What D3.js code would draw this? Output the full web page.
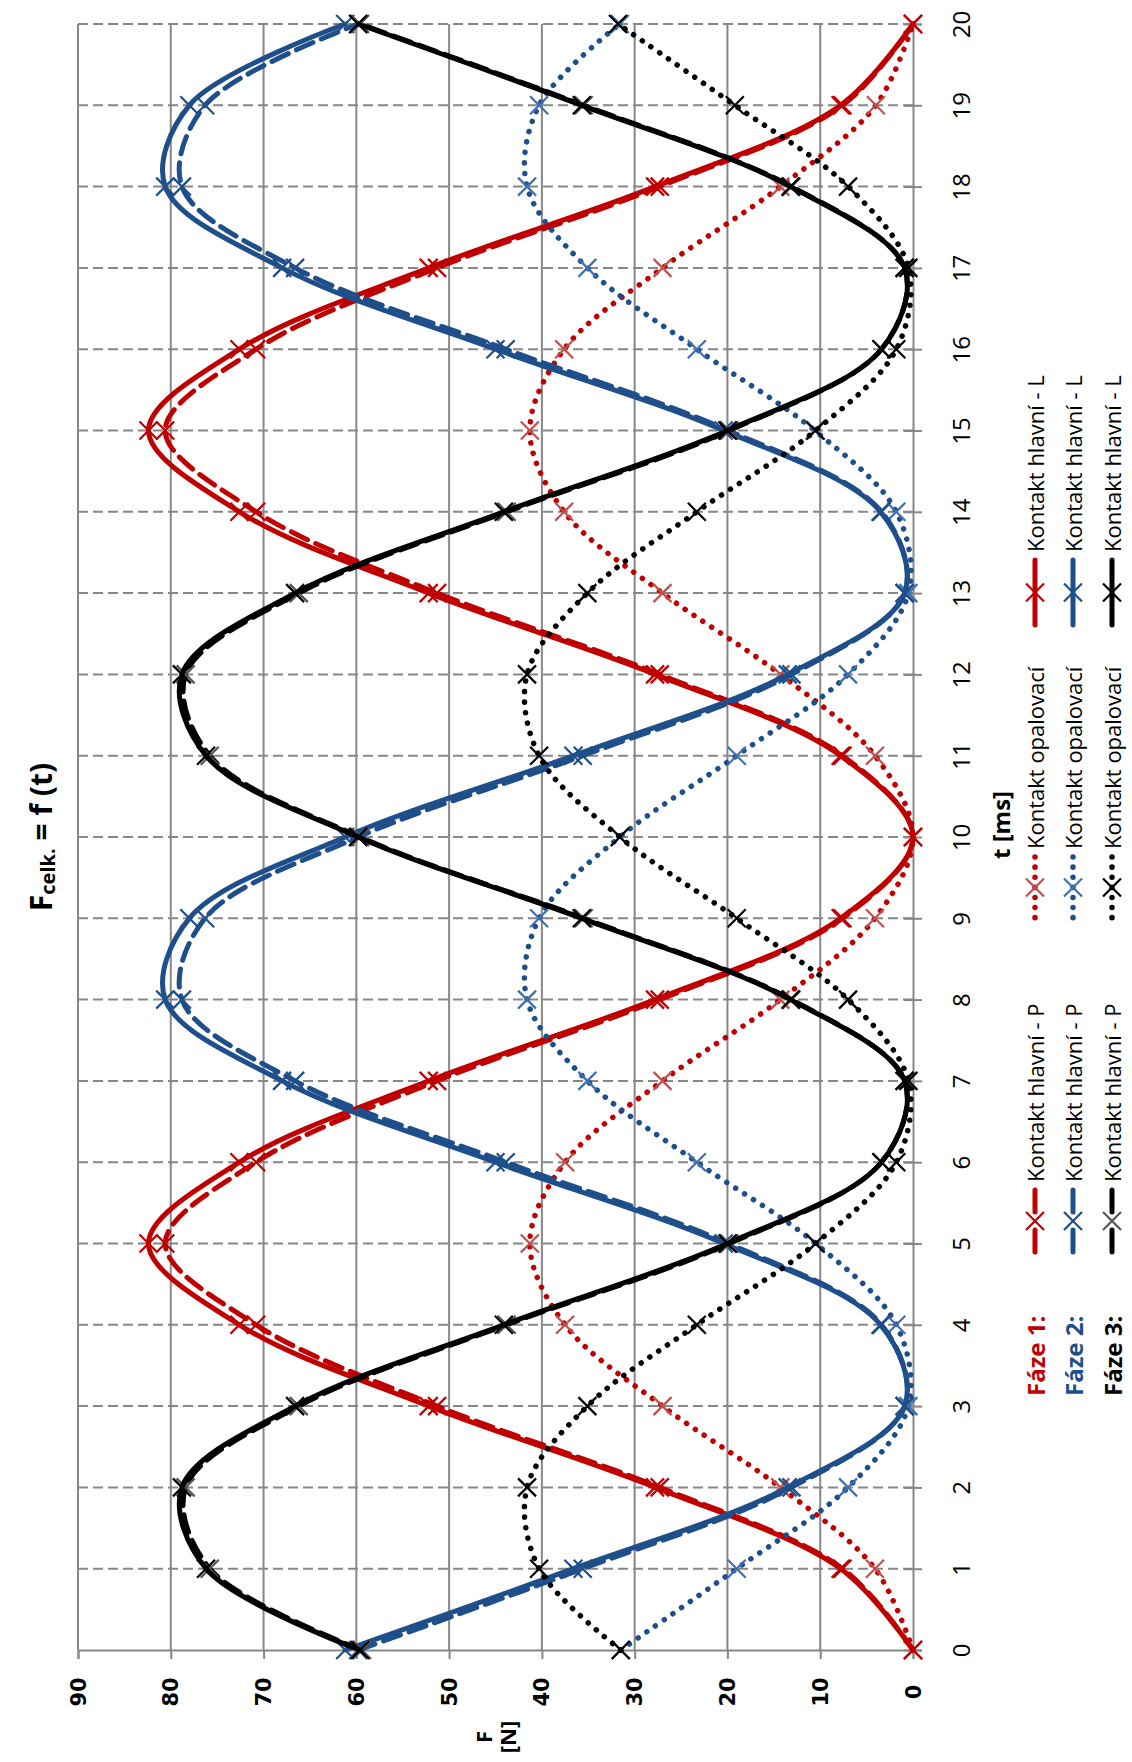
<!DOCTYPE html>
<html lang="cs">
<head>
<meta charset="UTF-8">
<title>F celk. = f (t)</title>
<script src="https://d3js.org/d3.v7.min.js"></script>
<style>
    body { margin: 0; padding: 0; background: #fff; }
    text { font-family: "Open Sans", "DejaVu Sans", sans-serif; }
</style>
</head>
<body>
<div id="chart"></div>
<script>
    // t [ms]
    var times = [0, 1, 2, 3, 4, 5, 6, 7, 8, 9, 10, 11, 12, 13, 14, 15, 16, 17, 18, 19, 20];
    var fTicks = [0, 10, 20, 30, 40, 50, 60, 70, 80, 90];

    // Fáze 1
    var f1HlavniP = [0, 7.6, 27.3, 51.3, 70.8, 80.6, 70.8, 51.3, 27.3, 7.6, 0, 7.6, 27.3, 51.3, 70.8, 80.6, 70.8, 51.3, 27.3, 7.6, 0];
    var f1Opal = [0, 4.1, 14.3, 27.0, 37.5, 41.3, 37.5, 27.0, 14.3, 4.1, 0, 4.1, 14.3, 27.0, 37.6, 41.3, 37.6, 27.0, 14.3, 4.0, 0];
    var f1HlavniL = [0, 7.8, 27.8, 52.2, 72.6, 82.4, 72.6, 52.2, 27.8, 7.8, 0, 7.8, 27.8, 52.2, 72.6, 82.4, 72.6, 52.2, 27.8, 7.8, 0];
    // Fáze 2
    var f2HlavniP = [59.8, 35.6, 13.1, 0.9, 3.4, 19.9, 43.9, 66.6, 78.8, 76.3, 59.8, 35.6, 13.1, 0.9, 3.4, 19.9, 43.9, 66.6, 78.8, 76.3, 59.8];
    var f2Opal = [31.5, 19.0, 7.0, 0.5, 1.8, 10.5, 23.3, 35.1, 41.6, 40.3, 31.6, 19.0, 7.0, 0.5, 1.8, 10.6, 23.3, 35.1, 41.6, 40.3, 31.6];
    var f2HlavniL = [61.2, 36.6, 13.5, 0.9, 3.5, 20.4, 45.0, 68.0, 80.6, 78.0, 61.2, 36.6, 13.5, 0.9, 3.5, 20.4, 45.0, 68.0, 80.6, 78.0, 61.2];
    // Fáze 3
    var f3HlavniP = [59.4, 75.8, 78.4, 66.2, 43.8, 19.8, 3.4, 0.9, 13.1, 35.5, 59.6, 75.8, 78.4, 66.2, 43.8, 19.8, 3.4, 0.9, 13.1, 35.5, 59.6];
    var f3Opal = [31.5, 40.3, 41.6, 35.1, 23.3, 10.5, 1.8, 0.5, 7.0, 19.0, 31.6, 40.3, 41.6, 35.1, 23.3, 10.5, 1.8, 0.5, 7.0, 19.2, 31.8];
    var f3HlavniL = [59.6, 76.2, 78.8, 66.6, 44.1, 20.0, 3.4, 0.9, 13.2, 35.7, 59.8, 76.2, 78.8, 66.6, 44.1, 20.0, 3.4, 0.9, 13.2, 35.7, 59.8];

    var red = '#C00000', blue = '#1F4F8B', black = '#000000';

    var series = [
        { name: 'Kontakt hlavní - P', vals: f1HlavniP, color: red, mark: red, style: 'dash', faze: 0 },
        { name: 'Kontakt opalovací', vals: f1Opal, color: red, mark: '#C0504D', style: 'dot', faze: 0 },
        { name: 'Kontakt hlavní - L', vals: f1HlavniL, color: red, mark: red, style: 'solid', faze: 0 },
        { name: 'Kontakt hlavní - P', vals: f2HlavniP, color: blue, mark: blue, style: 'dash', faze: 1 },
        { name: 'Kontakt opalovací', vals: f2Opal, color: blue, mark: '#3F6FAE', style: 'dot', faze: 1 },
        { name: 'Kontakt hlavní - L', vals: f2HlavniL, color: blue, mark: blue, style: 'solid', faze: 1 },
        { name: 'Kontakt hlavní - P', vals: f3HlavniP, color: black, mark: '#555555', style: 'dash', faze: 2 },
        { name: 'Kontakt opalovací', vals: f3Opal, color: black, mark: black, style: 'dot', faze: 2 },
        { name: 'Kontakt hlavní - L', vals: f3HlavniL, color: black, mark: black, style: 'solid', faze: 2 }
    ];
    var fazeLabels = ['Fáze 1:', 'Fáze 2:', 'Fáze 3:'];
    var fazeColors = [red, blue, black];

    var width = 1132, height = 1762;

    var svg = d3.select('#chart').append('svg')
        .attr('width', width)
        .attr('height', height);

    // chart is drawn turned: F runs right to left, t runs bottom to top
    var x = d3.scaleLinear().domain([0, 90]).range([913, 78]);
    var y = d3.scaleLinear().domain([0, 20]).range([1650, 24]);

    var gridColor = '#878787';

    // vertical solid grid (F)
    svg.append('g').selectAll('line')
        .data(fTicks.slice(1))
        .enter().append('line')
        .attr('x1', function(d) { return x(d); })
        .attr('x2', function(d) { return x(d); })
        .attr('y1', y(0)).attr('y2', y(20))
        .attr('stroke', gridColor).attr('stroke-width', 2);

    // horizontal dashed grid (t)
    svg.append('g').selectAll('line')
        .data(times.slice(1))
        .enter().append('line')
        .attr('x1', x(90)).attr('x2', x(0))
        .attr('y1', function(d) { return y(d); })
        .attr('y2', function(d) { return y(d); })
        .attr('stroke', gridColor).attr('stroke-width', 2)
        .attr('stroke-dasharray', '10,5');

    // F axis (bottom)
    var fAxis = svg.append('g')
        .attr('transform', 'translate(0,' + y(0) + ')')
        .call(d3.axisBottom(x).tickValues(fTicks).tickSize(9).tickFormat(d3.format('d')));
    fAxis.select('.domain').attr('stroke', gridColor).attr('stroke-width', 2);
    fAxis.selectAll('.tick line').attr('stroke', gridColor).attr('stroke-width', 2);
    fAxis.selectAll('.tick text')
        .attr('y', 0).attr('dy', null)
        .attr('transform', 'translate(0,42) rotate(-90)')
        .attr('text-anchor', 'middle')
        .attr('dominant-baseline', 'central')
        .style('font-family', '"DejaVu Sans", sans-serif')
        .style('font-size', '21px')
        .style('font-weight', 'bold')
        .attr('fill', '#000');

    // t axis (right)
    var tAxis = svg.append('g')
        .attr('transform', 'translate(' + x(0) + ',0)')
        .call(d3.axisRight(y).tickValues(times).tickSize(9).tickFormat(d3.format('d')));
    tAxis.select('.domain').attr('stroke', gridColor).attr('stroke-width', 2);
    tAxis.selectAll('.tick line').attr('x1', -9).attr('stroke', gridColor).attr('stroke-width', 2);
    tAxis.selectAll('.tick text')
        .attr('x', 0).attr('dy', null)
        .attr('transform', 'translate(47,0) rotate(-90)')
        .attr('text-anchor', 'middle')
        .attr('dominant-baseline', 'central')
        .style('font-size', '24px')
        .attr('fill', '#000');

    // series
    var line = d3.line()
        .x(function(d) { return x(d.v); })
        .y(function(d) { return y(d.t); })
        .curve(d3.curveCatmullRom.alpha(0.5));

    function dashOf(style) {
        if (style === 'dash') return '18,9';
        if (style === 'dot') return '0.1,10.5';
        return null;
    }

    function xMark(s) {
        return 'M' + (-s) + ',' + (-s) + 'L' + s + ',' + s + 'M' + (-s) + ',' + s + 'L' + s + ',' + (-s);
    }

    series.forEach(function(s) {
        var pts = times.map(function(t, i) { return { t: t, v: s.vals[i] }; });
        svg.append('path')
            .datum(pts)
            .attr('d', line)
            .attr('fill', 'none')
            .attr('stroke', s.color)
            .attr('stroke-width', s.style === 'dot' ? 5.5 : 5)
            .attr('stroke-linecap', 'round')
            .attr('stroke-dasharray', dashOf(s.style));
        svg.append('g').selectAll('path')
            .data(pts)
            .enter().append('path')
            .attr('transform', function(d) { return 'translate(' + x(d.v) + ',' + y(d.t) + ')'; })
            .attr('d', xMark(9))
            .attr('fill', 'none')
            .attr('stroke', s.mark)
            .attr('stroke-width', 2.2);
    });

    // titles
    var title = svg.append('text')
        .attr('transform', 'translate(40,' + y(10) + ') rotate(-90)')
        .attr('text-anchor', 'middle')
        .attr('dominant-baseline', 'central')
        .style('font-size', '30px')
        .style('font-weight', 'bold');
    title.append('tspan').text('F');
    title.append('tspan').attr('dy', 7).style('font-size', '20px').text('celk.');
    title.append('tspan').attr('dy', -7).text(' = f (t)');

    svg.append('text')
        .attr('transform', 'translate(1000,' + (y(10) - 12) + ') rotate(-90)')
        .attr('text-anchor', 'middle')
        .attr('dominant-baseline', 'central')
        .style('font-size', '24px')
        .style('font-weight', 'bold')
        .text('t [ms]');

    var fLab = svg.append('text')
        .attr('transform', 'translate(' + ((x(0) + x(90)) / 2) + ',1737) rotate(-90)')
        .attr('text-anchor', 'middle')
        .style('font-size', '22px')
        .style('font-weight', 'bold');
    fLab.append('tspan').attr('x', 0).attr('dy', -4).text('F');
    fLab.append('tspan').attr('x', 0).attr('dy', 24).text('[N]');

    // legend: one column per phase, entries run bottom to top
    var legendX = [1035, 1073, 1112];
    var markerSpan = { dash: [1190, 1252], dot: [857, 918], solid: [560, 625] };

    fazeLabels.forEach(function(lab, i) {
        svg.append('text')
            .attr('transform', 'translate(' + legendX[i] + ',1396) rotate(-90)')
            .attr('dominant-baseline', 'central')
            .style('font-size', '24px')
            .style('font-weight', 'bold')
            .attr('fill', fazeColors[i])
            .text(lab);
    });

    series.forEach(function(s) {
        var cx = legendX[s.faze];
        var span = markerSpan[s.style];
        var mid = (span[0] + span[1]) / 2;
        var lg = svg.append('g');
        if (s.style === 'dash') {
            lg.append('line').attr('x1', cx).attr('x2', cx).attr('y1', span[0]).attr('y2', mid - 9)
                .attr('stroke', s.color).attr('stroke-width', 5).attr('stroke-linecap', 'round');
            lg.append('line').attr('x1', cx).attr('x2', cx).attr('y1', mid + 9).attr('y2', span[1])
                .attr('stroke', s.color).attr('stroke-width', 5).attr('stroke-linecap', 'round');
        } else {
            lg.append('line').attr('x1', cx).attr('x2', cx).attr('y1', span[0]).attr('y2', span[1])
                .attr('stroke', s.color).attr('stroke-width', s.style === 'dot' ? 5.5 : 5)
                .attr('stroke-linecap', 'round')
                .attr('stroke-dasharray', s.style === 'dot' ? '0.1,10' : null);
        }
        lg.append('path')
            .attr('transform', 'translate(' + cx + ',' + mid + ')')
            .attr('d', xMark(9))
            .attr('fill', 'none')
            .attr('stroke', s.mark)
            .attr('stroke-width', 2.2);
        lg.append('text')
            .attr('transform', 'translate(' + cx + ',' + (span[0] - 8) + ') rotate(-90)')
            .attr('dominant-baseline', 'central')
            .style('font-size', '22px')
            .text(s.name);
    });
</script>
</body>
</html>
